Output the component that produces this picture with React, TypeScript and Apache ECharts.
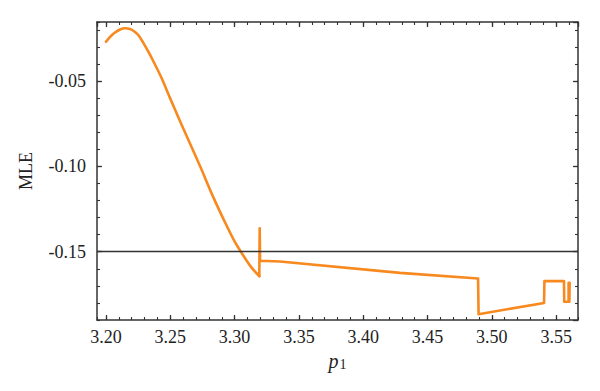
import React, { useEffect, useRef } from "react";
import * as echarts from "echarts";

const p1Values = [
  3.2, 3.2031, 3.207, 3.2109, 3.2148, 3.2187, 3.2218, 3.2251, 3.2288, 3.2329,
  3.2381, 3.2433, 3.2498, 3.2575, 3.2653, 3.2731, 3.2834, 3.2925, 3.3003, 3.3081,
  3.3135, 3.3192, 3.3195, 3.3198, 3.3353, 3.4286, 3.4893, 3.4897, 3.5406, 3.5409,
  3.5561, 3.5563, 3.5603, 3.5605, 3.5597, 3.5597,
];
const mleValues = [
  -0.027, -0.0242, -0.0216, -0.0198, -0.0191, -0.0195, -0.0208, -0.023, -0.0273, -0.0328,
  -0.0403, -0.0484, -0.06, -0.0734, -0.0866, -0.0998, -0.118, -0.1327, -0.1444, -0.1538,
  -0.1596, -0.1643, -0.1363, -0.1553, -0.1557, -0.1624, -0.1657, -0.1866, -0.18, -0.1672,
  -0.1672, -0.1793, -0.1793, -0.1682, -0.1682, -0.179,
];
// index of the last point of the smooth branch (before the first jump)
const smoothBranchEnd = 21;
const referenceLevel = [-0.15];
const xRange = [3.193, 3.567];
const yRange = [-0.19, -0.0154];

const FONT = "Liberation Serif";
const AXIS_COLOR = "#333";
const LINE_COLOR = "#f7891f";

function majorAxis(kind: "x" | "y", position: string, showLabels: boolean, gridIndex: number, extra: any = {}) {
  const range = kind === "x" ? xRange : yRange;
  return {
    type: "value",
    gridIndex,
    position,
    min: range[0],
    max: range[1],
    splitNumber: kind === "x" ? 7 : 3,
    axisLine: { show: true, onZero: false, lineStyle: { color: AXIS_COLOR, width: 1.5 } },
    axisTick: { show: true, inside: true, length: 5, lineStyle: { color: AXIS_COLOR, width: 1.3 } },
    splitLine: { show: false },
    axisLabel: {
      show: showLabels,
      showMinLabel: false,
      showMaxLabel: false,
      fontFamily: FONT,
      fontSize: 18,
      color: "#222",
      margin: kind === "x" ? 8 : 11,
      formatter: (v: number) => v.toFixed(2),
    },
    ...extra,
  };
}

function minorAxis(kind: "x" | "y", position: string, gridIndex: number) {
  const range = kind === "x" ? xRange : yRange;
  return {
    type: "value",
    gridIndex,
    position,
    min: range[0],
    max: range[1],
    splitNumber: kind === "x" ? 31 : 14,
    axisLine: { show: false, onZero: false },
    axisTick: { show: true, inside: true, length: 3, lineStyle: { color: AXIS_COLOR, width: 1.1 } },
    splitLine: { show: false },
    axisLabel: { show: false },
  };
}

export default function App() {
  const ref = useRef<HTMLDivElement>(null);
  useEffect(() => {
    if (!ref.current) return;
    const chart = echarts.init(ref.current, null, { renderer: "svg" });
    const gridRect = { left: 97, top: 22, right: 22, bottom: 71 };
    const data = p1Values.map((x, i) => [x, mleValues[i]]);
    const smoothPart = data.slice(0, smoothBranchEnd + 1);
    const stepPart = data.slice(smoothBranchEnd);
    const lineStyle = { color: LINE_COLOR, width: 2.6, join: "round", cap: "round" };
    chart.setOption({
      animation: false,
      backgroundColor: "#fff",
      grid: [
        { ...gridRect, containLabel: false },
        { ...gridRect, containLabel: false },
      ],
      xAxis: [
        majorAxis("x", "bottom", true, 0, {
          name: "{i|p}{s|1}",
          nameLocation: "middle",
          nameGap: 29,
          nameTextStyle: {
            rich: {
              i: { fontFamily: FONT, fontStyle: "italic", fontSize: 20, lineHeight: 20, verticalAlign: "top", color: "#222" },
              s: { fontFamily: FONT, fontSize: 14, lineHeight: 14, padding: [7, 0, 0, 1], verticalAlign: "top", color: "#222" },
            },
          },
        }),
        majorAxis("x", "top", false, 0),
        minorAxis("x", "bottom", 1),
        minorAxis("x", "top", 1),
      ],
      yAxis: [
        majorAxis("y", "left", true, 0, {
          name: "MLE",
          nameLocation: "middle",
          nameRotate: 90,
          nameGap: 62,
          nameTextStyle: { fontFamily: FONT, fontSize: 18, color: "#222" },
        }),
        majorAxis("y", "right", false, 0),
        minorAxis("y", "left", 1),
        minorAxis("y", "right", 1),
      ],
      series: [
        {
          type: "line",
          xAxisIndex: 0,
          yAxisIndex: 0,
          data: smoothPart,
          smooth: 0.3,
          showSymbol: false,
          symbol: "none",
          lineStyle,
          markLine: {
            silent: true,
            symbol: "none",
            label: { show: false },
            lineStyle: { color: "#333", width: 1.3, type: "solid" },
            data: referenceLevel.map((v) => ({ yAxis: v })),
          },
        },
        {
          type: "line",
          xAxisIndex: 0,
          yAxisIndex: 0,
          data: stepPart,
          showSymbol: false,
          symbol: "none",
          lineStyle,
        },
      ],
    });
    return () => chart.dispose();
  }, []);
  return <div ref={ref} style={{ width: 600, height: 391, position: "absolute", left: 0, top: 0 }} />;
}
